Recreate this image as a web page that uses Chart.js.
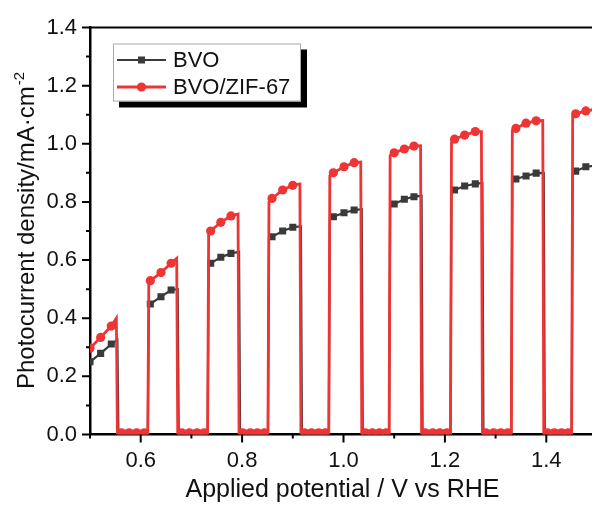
<!DOCTYPE html>
<html>
<head>
<meta charset="utf-8">
<script src="https://cdn.jsdelivr.net/npm/chart.js@4.4.1/dist/chart.umd.min.js"></script>
<style>
  html, body { margin: 0; padding: 0; background: #fff; overflow: hidden; }
</style>
</head>
<body>
<canvas id="myChart" width="610" height="505"></canvas>
<script>
// marker positions (light on: 3, dark: 4), shared by both samples
var markX = [0.500,0.521,0.542, 0.562,0.577,0.592,0.607, 0.619,0.640,0.660, 0.681,0.696,0.711,0.725,
  0.738,0.758,0.778, 0.801,0.816,0.830,0.844, 0.859,0.880,0.900, 0.923,0.937,0.951,0.964,
  0.980,1.001,1.021, 1.043,1.057,1.071,1.084, 1.100,1.120,1.139, 1.161,1.176,1.190,1.204,
  1.219,1.239,1.260, 1.281,1.296,1.310,1.324, 1.340,1.360,1.380, 1.402,1.416,1.430,1.443,
  1.458,1.478,1.498];

var bvoMark = [0.250,0.279,0.311, 0.004,0.004,0.004,0.004, 0.449,0.474,0.497, 0.004,0.004,0.004,0.004,
  0.589,0.610,0.623, 0.004,0.004,0.004,0.004, 0.680,0.700,0.713, 0.004,0.004,0.004,0.004,
  0.749,0.763,0.772, 0.004,0.004,0.004,0.004, 0.793,0.809,0.818, 0.004,0.004,0.004,0.004,
  0.841,0.855,0.862, 0.004,0.004,0.004,0.004, 0.879,0.889,0.899, 0.004,0.004,0.004,0.004,
  0.906,0.921,0.925];

var zifMark = [0.297,0.334,0.373, 0.006,0.006,0.006,0.006, 0.529,0.557,0.589, 0.006,0.006,0.006,0.006,
  0.700,0.730,0.752, 0.006,0.006,0.006,0.006, 0.812,0.841,0.857, 0.006,0.006,0.006,0.006,
  0.900,0.921,0.935, 0.006,0.006,0.006,0.006, 0.969,0.982,0.992, 0.006,0.006,0.006,0.006,
  1.016,1.030,1.042, 0.006,0.006,0.006,0.006, 1.053,1.071,1.079, 0.006,0.006,0.006,0.006,
  1.103,1.113,1.118];

// light on/off switching edges (no marker)
var bvoEdgeX = [0.554,0.556, 0.614,0.616, 0.673,0.675, 0.732,0.734, 0.794,0.796, 0.851,0.853,
  0.916,0.918, 0.971,0.973, 1.036,1.038, 1.090,1.092, 1.154,1.156, 1.211,1.213,
  1.274,1.276, 1.331,1.333, 1.395,1.397, 1.450,1.452];
var bvoEdge = [0.325,0.004, 0.004,0.440, 0.500,0.004, 0.004,0.580, 0.628,0.004, 0.004,0.670,
  0.716,0.004, 0.004,0.740, 0.775,0.004, 0.004,0.785, 0.821,0.004, 0.004,0.832,
  0.865,0.004, 0.004,0.872, 0.900,0.004, 0.004,0.898];

var zifEdgeX = [0.552,0.554, 0.614,0.616, 0.671,0.673, 0.732,0.734, 0.792,0.794, 0.851,0.853,
  0.914,0.916, 0.971,0.973, 1.034,1.036, 1.090,1.092, 1.152,1.154, 1.211,1.213,
  1.272,1.274, 1.331,1.333, 1.393,1.395, 1.450,1.452];
var zifEdge = [0.400,0.006, 0.006,0.520, 0.606,0.006, 0.006,0.690, 0.758,0.006, 0.006,0.800,
  0.862,0.006, 0.006,0.890, 0.937,0.006, 0.006,0.960, 0.993,0.006, 0.006,1.005,
  1.042,0.006, 0.006,1.045, 1.080,0.006, 0.006,1.095];

var xTicks = [0.6, 0.8, 1.0, 1.2, 1.4];
var yTicks = [0.0, 0.2, 0.4, 0.6, 0.8, 1.0, 1.2, 1.4];

var seriesNames = ["BVO", "BVO/ZIF-67"];
var black = "#3a3a3a";
var red = "#ee3434";

function buildPoints(mx, my, ex, ey) {
  var pts = mx.map(function (x, i) { return {x: x, y: my[i], m: 1}; });
  ex.forEach(function (x, i) { pts.push({x: x, y: ey[i], m: 0}); });
  pts.sort(function (a, b) { return a.x - b.x; });
  return pts;
}

var font = "'Liberation Sans', Arial, sans-serif";

var decor = {
  id: "decor",
  afterDraw: function (chart) {
    var ctx = chart.ctx, a = chart.chartArea;
    var xs = chart.scales.x, ys = chart.scales.y;
    ctx.save();
    ctx.strokeStyle = "#000";
    ctx.lineWidth = 2;
    ctx.beginPath();
    // top frame
    ctx.moveTo(a.left - 1, a.top);
    ctx.lineTo(a.right + 1, a.top);
    // x ticks
    for (var i = 0; i < xTicks.length; i++) {
      var px = xs.getPixelForValue(xTicks[i]);
      ctx.moveTo(px, a.bottom); ctx.lineTo(px, a.bottom + 8);
      var mpx = xs.getPixelForValue(xTicks[i] - 0.1);
      ctx.moveTo(mpx, a.bottom); ctx.lineTo(mpx, a.bottom + 4);
    }
    var lastMinor = xs.getPixelForValue(1.5);
    ctx.moveTo(lastMinor, a.bottom); ctx.lineTo(lastMinor, a.bottom + 4);
    // y ticks
    for (var j = 0; j < yTicks.length; j++) {
      var py = ys.getPixelForValue(yTicks[j]);
      ctx.moveTo(a.left, py); ctx.lineTo(a.left - 8, py);
      if (j > 0) {
        var mpy = ys.getPixelForValue(yTicks[j] - 0.1);
        ctx.moveTo(a.left, mpy); ctx.lineTo(a.left - 4, mpy);
      }
    }
    ctx.stroke();

    // axis titles
    ctx.fillStyle = "#111";
    ctx.font = "25px " + font;
    ctx.textAlign = "center";
    ctx.textBaseline = "alphabetic";
    ctx.fillText("Applied potential / V vs RHE", (a.left + a.right) / 2 - 1, 497);

    ctx.save();
    ctx.translate(34, (a.top + a.bottom) / 2);
    ctx.rotate(-Math.PI / 2);
    var main = "Photocurrent density/mA\u00B7cm";
    ctx.font = "24px " + font;
    var w1 = ctx.measureText(main).width;
    ctx.font = "15px " + font;
    var w2 = ctx.measureText("-2").width;
    ctx.textAlign = "left";
    ctx.font = "24px " + font;
    ctx.fillText(main, -(w1 + w2) / 2, 0);
    ctx.font = "15px " + font;
    ctx.fillText("-2", -(w1 + w2) / 2 + w1 + 1, -10);
    ctx.restore();

    // legend
    var lx = 113, ly = 43.5, lw = 188, lh = 58;
    ctx.fillStyle = "#000";
    ctx.fillRect(lx + 6, ly + 6, lw, lh);
    ctx.fillStyle = "#fff";
    ctx.fillRect(lx, ly, lw, lh);
    ctx.strokeStyle = "#aaaaaa";
    ctx.lineWidth = 1;
    ctx.strokeRect(lx + 0.5, ly + 0.5, lw - 1, lh - 1);

    var rows = [
      {y: 60, color: black, width: 2.2, shape: "rect", label: seriesNames[0]},
      {y: 87, color: red, width: 2.8, shape: "circle", label: seriesNames[1]}
    ];
    rows.forEach(function (r) {
      ctx.strokeStyle = r.color;
      ctx.lineWidth = r.width;
      ctx.beginPath();
      ctx.moveTo(117, r.y); ctx.lineTo(166, r.y);
      ctx.stroke();
      ctx.fillStyle = r.color;
      if (r.shape === "rect") {
        ctx.fillRect(141.5 - 3.5, r.y - 3.5, 7, 7);
      } else {
        ctx.beginPath();
        ctx.arc(141.5, r.y, 4.6, 0, Math.PI * 2);
        ctx.fill();
      }
      ctx.fillStyle = "#111";
      ctx.font = "22px " + font;
      ctx.textAlign = "left";
      ctx.textBaseline = "middle";
      ctx.fillText(r.label, 173, r.y + 1);
    });
    ctx.restore();
  }
};

new Chart("myChart", {
  type: "line",
  data: {
    datasets: [{
      label: seriesNames[1],
      data: buildPoints(markX, zifMark, zifEdgeX, zifEdge),
      borderColor: red,
      backgroundColor: red,
      borderWidth: 2.8,
      pointStyle: "circle",
      pointRadius: function (c) { return c.raw && c.raw.m ? 4.6 : 0; },
      pointBorderWidth: 0,
      tension: 0,
      order: 1
    }, {
      label: seriesNames[0],
      data: buildPoints(markX, bvoMark, bvoEdgeX, bvoEdge),
      borderColor: black,
      backgroundColor: black,
      borderWidth: 2.2,
      pointStyle: "rect",
      pointRadius: function (c) { return c.raw && c.raw.m ? 5 : 0; },
      pointBorderWidth: 0,
      tension: 0,
      order: 2
    }]
  },
  options: {
    responsive: false,
    animation: false,
    layout: {padding: {top: 27.5, right: 13, left: 0, bottom: 0}},
    plugins: {legend: {display: false}, tooltip: {enabled: false}},
    scales: {
      x: {
        type: "linear",
        min: 0.5,
        max: 1.5,
        afterBuildTicks: function (s) { s.ticks = xTicks.map(function (v) { return {value: v}; }); },
        afterFit: function (s) { s.height = 70.5; },
        grid: {display: false, drawTicks: false},
        border: {display: true, color: "#000", width: 2.5},
        ticks: {
          padding: 13,
          color: "#111",
          font: {family: font, size: 22},
          maxRotation: 0,
          callback: function (v) { return Number(v).toFixed(1); }
        }
      },
      y: {
        min: 0,
        max: 1.4,
        afterBuildTicks: function (s) { s.ticks = yTicks.map(function (v) { return {value: v}; }); },
        afterFit: function (s) { s.width = 90; },
        grid: {display: false, drawTicks: false},
        border: {display: true, color: "#000", width: 2.5},
        ticks: {
          padding: 13,
          color: "#111",
          font: {family: font, size: 22},
          callback: function (v) { return Number(v).toFixed(1); }
        }
      }
    }
  },
  plugins: [decor]
});
</script>
</body>
</html>
